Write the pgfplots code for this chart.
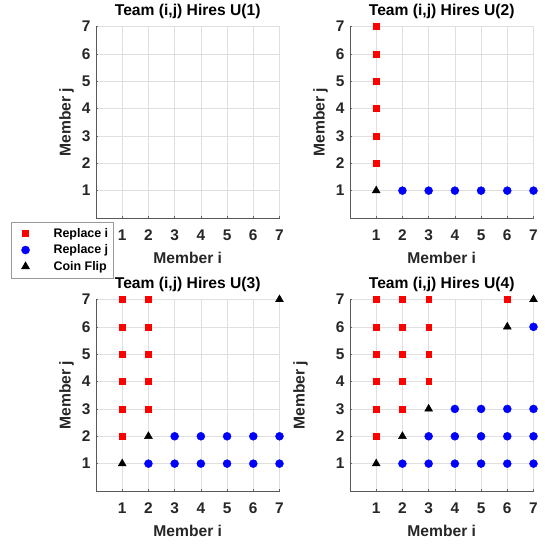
\documentclass[border=0pt]{standalone}
\usepackage{fontspec}
\setmainfont{Liberation Sans}
\usepackage{pgfplots}
\pgfplotsset{compat=1.18}
\definecolor{axgray}{RGB}{38,38,38}
\definecolor{gridgray}{RGB}{223,223,223}
\pgfplotsset{
 teamaxis/.style={
  scale only axis, width=183.5bp, height=191.5bp,
  xmin=0, xmax=7, ymin=0, ymax=7,
  xtick={1,...,7}, ytick={1,...,7},
  axis x line*=bottom, axis y line*=left,
  axis line style={draw=black!65, line width=0.6bp},
  grid=major, major grid style={draw=gridgray, line width=0.5bp},
  tick align=inside, major tick length=2bp,
  tick style={draw=black!60, line width=0.5bp},
  clip=false,
  /pgf/number format/assume math mode=true,
  tick label style={font=\fontsize{15.5}{18}\selectfont\bfseries, text=axgray},
  xticklabel style={yshift=-8.5bp},
  yticklabel style={xshift=-2bp},
  label style={font=\fontsize{15.7}{18}\selectfont\bfseries, text=axgray},
  xlabel={Member i}, ylabel={Member j},
  x label style={at={(axis description cs:0.5,-0.206)}, anchor=center},
  y label style={at={(axis description cs:-0.161,0.5)}, anchor=center},
  title style={at={(axis description cs:0.5,1)}, anchor=base, yshift=4.7bp,
    font=\fontsize{15.7}{18}\selectfont\bfseries, text=black},
 },
 redsq/.style={only marks, mark=square*, mark size=2.9bp, color=red},
 bluec/.style={only marks, mark=*, mark size=4bp, color=blue},
 blktri/.style={only marks, mark=triangle*, mark size=4.6bp, color=black},
}
\begin{document}
\begin{tikzpicture}
\path[use as bounding box] (0,0) rectangle (545bp,544bp);
% U(1)
\begin{axis}[teamaxis, at={(96bp,326bp)}, anchor=origin, title={Team (i,j) Hires U(1)},
  legend style={at={(axis description cs:-0.463,-0.021)}, anchor=north west,
    draw=black!40, line width=0.5bp, fill=white,
    font=\fontsize{12.5}{15}\selectfont\bfseries, text=black,
    column sep=22bp, row sep=2bp, inner xsep=3bp, inner ysep=4bp},
  legend cell align=left]
\addlegendimage{legend image code/.code={\path (0bp,0bp); \draw[only marks, mark=square*, mark size=2.9bp, red] plot coordinates {(11bp,0bp)};}}
\addlegendentry{Replace i}
\addlegendimage{legend image code/.code={\path (0bp,0bp); \draw[only marks, mark=*, mark size=4bp, blue] plot coordinates {(11bp,0bp)};}}
\addlegendentry{Replace j}
\addlegendimage{legend image code/.code={\path (0bp,0bp); \draw[only marks, mark=triangle*, mark size=4.6bp, black] plot coordinates {(11bp,0bp)};}}
\addlegendentry{Coin Flip}
\end{axis}
% U(2)
\begin{axis}[teamaxis, at={(350bp,326bp)}, anchor=origin, title={Team (i,j) Hires U(2)}]
\addplot[redsq] coordinates {(1,2)(1,3)(1,4)(1,5)(1,6)(1,7)};
\addplot[bluec] coordinates {(2,1)(3,1)(4,1)(5,1)(6,1)(7,1)};
\addplot[blktri] coordinates {(1,1)};
\end{axis}
% U(3)
\begin{axis}[teamaxis, at={(96bp,53bp)}, anchor=origin, title={Team (i,j) Hires U(3)}]
\addplot[redsq] coordinates {(1,2)(1,3)(1,4)(1,5)(1,6)(1,7)
  (2,3)(2,4)(2,5)(2,6)(2,7)};
\addplot[bluec] coordinates {(2,1)(3,1)(4,1)(5,1)(6,1)(7,1)
  (3,2)(4,2)(5,2)(6,2)(7,2)};
\addplot[blktri] coordinates {(1,1)(2,2)(7,7)};
\end{axis}
% U(4)
\begin{axis}[teamaxis, at={(350bp,53bp)}, anchor=origin, title={Team (i,j) Hires U(4)},
  y label style={at={(axis description cs:-0.27,0.5)}}]
\addplot[redsq] coordinates {(1,2)(1,3)(1,4)(1,5)(1,6)(1,7)
  (2,3)(2,4)(2,5)(2,6)(2,7)
  (3,4)(3,5)(3,6)(3,7)
  (6,7)};
\addplot[bluec] coordinates {(2,1)(3,1)(4,1)(5,1)(6,1)(7,1)
  (3,2)(4,2)(5,2)(6,2)(7,2)
  (4,3)(5,3)(6,3)(7,3)
  (7,6)};
\addplot[blktri] coordinates {(1,1)(2,2)(3,3)(6,6)(7,7)};
\end{axis}
\end{tikzpicture}
\end{document}
